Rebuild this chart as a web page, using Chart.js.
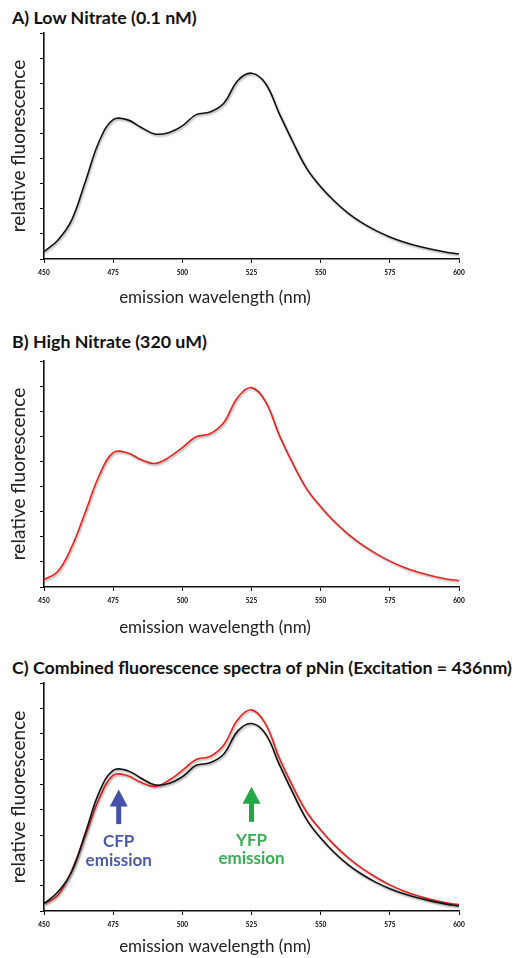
<!DOCTYPE html>
<html>
<head>
<meta charset="utf-8">
<script src="https://cdn.jsdelivr.net/npm/chart.js@4.4.1/dist/chart.umd.min.js"></script>
<style>
  html, body { margin: 0; padding: 0; background: #fff; }
  .panel { position: absolute; left: 0; width: 522px; }
  .heading { position: absolute; left: 12px; font: bold 17.8px Lato, "Open Sans", sans-serif;
             color: #111; line-height: 20px; white-space: nowrap; }
</style>
</head>
<body>
<div class="heading" style="top:7px">A) Low Nitrate (0.1 nM)</div>
<div class="heading" style="top:331px">B) High Nitrate (320 uM)</div>
<div class="heading" style="top:657px">C) Combined fluorescence spectra of pNin (Excitation = 436nm)</div>
<div class="panel" style="top:0;height:310px"><canvas id="chartA"></canvas></div>
<div class="panel" style="top:328px;height:310px"><canvas id="chartB"></canvas></div>
<div class="panel" style="top:650px;height:308px"><canvas id="chartC"></canvas></div>
<script>
// --- data (y in tick units, 9 ticks, no labels) ---
const wavelengths = [450, 455, 460, 465, 470, 475, 480, 485, 490, 495, 500, 505, 510, 515, 520,
                     525, 530, 535, 540, 545, 550, 555, 560, 565, 570, 575, 580, 585, 590, 595, 600];
const lowNitrate  = [0.29, 0.75, 1.55, 3.1, 4.7, 5.55, 5.55, 5.25, 4.98, 5.03, 5.3, 5.75, 5.85, 6.2, 7.1,
                     7.4, 7.0, 5.8, 4.65, 3.6, 2.88, 2.3, 1.82, 1.44, 1.13, 0.88, 0.68, 0.52, 0.39, 0.28, 0.2];
const highNitrate = [0.29, 0.62, 1.6, 3.0, 4.45, 5.35, 5.35, 5.08, 4.92, 5.15, 5.55, 5.98, 6.1, 6.55, 7.55,
                     7.94, 7.4, 6.05, 4.9, 3.9, 3.2, 2.6, 2.1, 1.68, 1.33, 1.03, 0.79, 0.6, 0.45, 0.33, 0.25];
const xTicks = [450, 475, 500, 525, 550, 575, 600];

// arrows in panel C: [wavelength, tip, base, label line 1, label line 2]
const arrowLabels = ['CFP', 'YFP'];
const arrowNm = [477, 525];
const arrowTip = [4.8, 4.9];
const arrowBase = [3.43, 3.52];
const labelLine1 = [2.74, 2.8];
const labelLine2 = [2.0, 2.08];
const arrowColors = ['#4453a8', '#25a646'];
const labelColors = ['#4d5bab', '#3aae55'];

const BLACK = '#111111';
const RED = '#e8231f';
const FONT = 'Lato, "Open Sans", sans-serif';

const toPts = (vals) => wavelengths.map((w, i) => ({ x: w, y: vals[i] }));

// gray drop shadow under the lines
const lineShadow = {
  id: 'lineShadow',
  beforeDatasetDraw(chart) {
    const c = chart.ctx;
    c.save();
    c.shadowColor = 'rgba(0,0,0,0.35)';
    c.shadowBlur = 2;
    c.shadowOffsetX = 1;
    c.shadowOffsetY = 1.5;
  },
  afterDatasetDraw(chart) { chart.ctx.restore(); }
};

// x axis title sits left of centre in the original
const xTitle = {
  id: 'xTitle',
  afterDraw(chart, args, opts) {
    const { ctx, chartArea } = chart;
    ctx.save();
    ctx.font = '17px ' + FONT;
    ctx.fillStyle = '#222';
    ctx.textAlign = 'center';
    ctx.textBaseline = 'middle';
    ctx.fillText(opts.text, chartArea.left + opts.dx, chartArea.bottom + opts.dy);
    ctx.restore();
  }
};

const arrows = {
  id: 'arrows',
  afterDraw(chart, args, opts) {
    if (!opts.show) return;
    const { ctx, scales } = chart;
    ctx.save();
    arrowNm.forEach((nm, i) => {
      const x = scales.x.getPixelForValue(nm);
      const tip = scales.y.getPixelForValue(arrowTip[i]);
      const base = scales.y.getPixelForValue(arrowBase[i]);
      ctx.fillStyle = arrowColors[i];
      ctx.fillRect(x - 2.5, tip + 14, 5, base - tip - 14);
      ctx.beginPath();
      ctx.moveTo(x, tip);
      ctx.lineTo(x + 9, tip + 17);
      ctx.lineTo(x - 9, tip + 17);
      ctx.closePath();
      ctx.fill();
      ctx.fillStyle = labelColors[i];
      ctx.font = 'bold 17px ' + FONT;
      ctx.textAlign = 'center';
      ctx.textBaseline = 'middle';
      ctx.fillText(arrowLabels[i], x, scales.y.getPixelForValue(labelLine1[i]));
      ctx.fillText('emission', x, scales.y.getPixelForValue(labelLine2[i]));
    });
    ctx.restore();
  }
};

function makeChart(id, datasets, xTitleDy, showArrows) {
  const canvasH = document.getElementById(id).parentNode.clientHeight;
  return new Chart(document.getElementById(id), {
    type: 'line',
    data: { datasets },
    plugins: [lineShadow, xTitle, arrows],
    options: {
      responsive: true,
      maintainAspectRatio: false,
      animation: false,
      layout: { padding: { top: 33, right: 63, left: 0 } },
      elements: { point: { radius: 0 }, line: { borderWidth: 1.6, tension: 0.4 } },
      plugins: {
        legend: { display: false },
        tooltip: { enabled: false },
        xTitle: { text: 'emission wavelength (nm)', dx: 171, dy: xTitleDy },
        arrows: { show: showArrows }
      },
      scales: {
        x: {
          type: 'linear', min: 450, max: 600,
          afterBuildTicks: (s) => { s.ticks = xTicks.map(v => ({ value: v })); },
          afterFit: (s) => { s.height = canvasH - 259 + (canvasH < 310 ? -2 : 0); },
          border: { display: true, color: '#111', width: 1.6 },
          grid: { display: true, drawOnChartArea: false, drawTicks: true, tickLength: 4, color: '#111' },
          ticks: { color: '#000', font: { family: FONT, size: 6.5, weight: 'bold' }, padding: 6, maxRotation: 0 }
        },
        y: {
          min: 0, max: 9,
          afterFit: (s) => { s.width = 44; },
          border: { display: true, color: '#111', width: 1.6 },
          grid: { display: true, drawOnChartArea: false, drawTicks: true, tickLength: 4, color: '#111' },
          ticks: { display: false, stepSize: 1 },
          title: { display: true, text: 'relative fluorescence', color: '#222',
                   font: { family: FONT, size: 19 }, padding: { top: 7, bottom: 0 } }
        }
      }
    }
  });
}

makeChart('chartA', [{ data: toPts(lowNitrate), borderColor: BLACK }], 39, false);
makeChart('chartB', [{ data: toPts(highNitrate), borderColor: RED }], 41, false);
makeChart('chartC', [{ data: toPts(lowNitrate), borderColor: BLACK },
                     { data: toPts(highNitrate), borderColor: RED }], 36, true);
</script>
</body>
</html>
